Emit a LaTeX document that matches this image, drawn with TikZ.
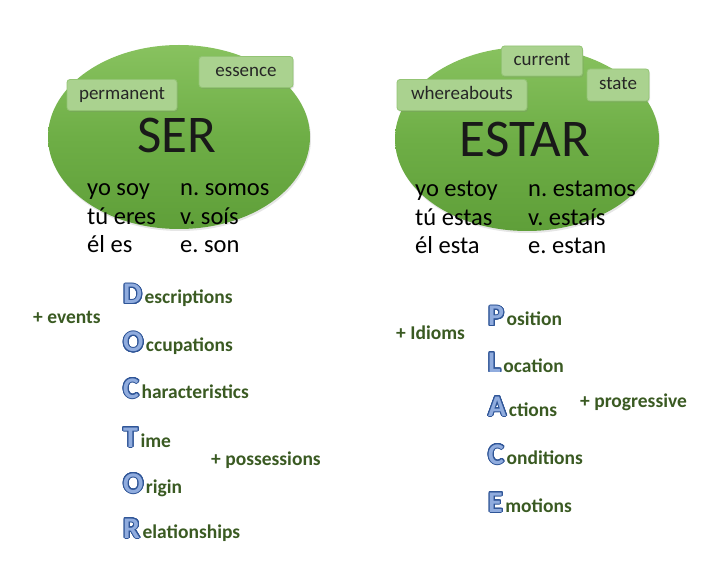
\documentclass[tikz,border=0pt]{standalone}
\usepackage{fontspec}
\setmainfont{Carlito}
\usepackage[copies]{contour}
\contourlength{1pt}
\contournumber{28}
\usetikzlibrary{shapes.geometric,shadows}
\definecolor{ellTop}{HTML}{88C25F}
\definecolor{ellMid}{HTML}{6EAE46}
\definecolor{ellBot}{HTML}{5F9F39}
\definecolor{tagFill}{HTML}{AAD28F}
\definecolor{tagLine}{HTML}{93C474}
\definecolor{wordGreen}{HTML}{3A5A22}
\definecolor{letterFill}{HTML}{90ACDE}
\definecolor{letterLine}{HTML}{2F5597}
\newcommand\InitLetter[1]{{\fontsize{30}{30}\selectfont\bfseries\color{letterFill}\contour{letterLine}{#1}}}
\tikzset{
  verbell/.style={ellipse, inner sep=0, top color=ellTop, bottom color=ellBot, middle color=ellMid,
    drop shadow={opacity=0.2, shadow xshift=1pt, shadow yshift=-2pt}},
  tag/.style={draw=tagLine, fill=tagFill, rounded corners=3pt, inner sep=0, line width=0.8pt,
    font=\fontsize{19}{19}\selectfont, text=black!85, text height=12.5pt, text depth=3.5pt,
    drop shadow={opacity=0.2, shadow xshift=1pt, shadow yshift=-1.5pt}},
  verbname/.style={anchor=base, inner sep=0, font=\fontsize{53}{53}\selectfont, text=black!90},
  conj/.style={anchor=base west, inner sep=0, font=\fontsize{24.5}{26}\selectfont, text=black},
  wordrow/.style={anchor=base west, inner sep=0, font=\fontsize{19.5}{21}\selectfont\bfseries, text=wordGreen},
  extra/.style={anchor=base west, inner sep=0, font=\fontsize{19.5}{21}\selectfont\bfseries, text=wordGreen}
}
\begin{document}
\frenchspacing
\begin{tikzpicture}[x=1pt,y=-1pt]
\useasboundingbox (0,0) rectangle (723,569);
% ellipses
\node[verbell, minimum width=262, minimum height=184] (serell) at (179,137) {};
\node[verbell, minimum width=264, minimum height=184] (estarell) at (527,139) {};
% tags
\node[tag, minimum width=110, minimum height=31] (permanent) at (122,95) {permanent};
\node[tag, minimum width=94, minimum height=31] (essence) at (246,72) {essence};
\node[tag, minimum width=130, minimum height=31] (whereabouts) at (462,95) {whereabouts};
\node[tag, minimum width=81, minimum height=30] (current) at (542,61) {current};
\node[tag, minimum width=62, minimum height=32] (state) at (618,85) {state};
% verb names
\node[verbname] (ser) at (177,153) {SER};
\node[verbname] (estar) at (525,157) {ESTAR};
% conjugations
\node[conj] (s1) at (87,196) {yo soy};
\node[conj] (s2) at (87,225) {tú eres};
\node[conj] (s3) at (87,253) {él es};
\node[conj] (s4) at (180,196) {n. somos};
\node[conj] (s5) at (180,225) {v. soís};
\node[conj] (s6) at (180,253) {e. son};
\node[conj] (e1) at (415,197) {yo estoy};
\node[conj] (e2) at (415,226) {tú estas};
\node[conj] (e3) at (415,254) {él esta};
\node[conj] (e4) at (528,197) {n. estamos};
\node[conj] (e5) at (528,226) {v. estaís};
\node[conj] (e6) at (528,254) {e. estan};
% DOCTOR
\node[wordrow] (dD) at (123,304) {\InitLetter{D}\kern2.5pt escriptions};
\node[wordrow] (dO) at (123,352) {\InitLetter{O}\kern2.5pt ccupations};
\node[wordrow] (dC) at (123,398) {\InitLetter{C}\kern2.5pt haracteristics};
\node[wordrow] (dT) at (123,447) {\InitLetter{T}\kern2.5pt ime};
\node[wordrow] (dO2) at (123,493) {\InitLetter{O}\kern2.5pt rigin};
\node[wordrow] (dR) at (123,538) {\InitLetter{R}\kern2.5pt elationships};
\node[extra] (events) at (33,324) {+ events};
\node[extra] (possessions) at (211,465) {+ possessions};
% PLACE
\node[wordrow] (pP) at (488,326) {\InitLetter{P}\kern2.5pt osition};
\node[wordrow] (pL) at (488,372) {\InitLetter{L}\kern2.5pt ocation};
\node[wordrow] (pA) at (488,416) {\InitLetter{A}\kern2.5pt ctions};
\node[wordrow] (pC) at (488,464) {\InitLetter{C}\kern2.5pt onditions};
\node[wordrow] (pE) at (488,512) {\InitLetter{E}\kern2.5pt motions};
\node[extra] (idioms) at (396,340) {+ Idioms};
\node[extra] (progressive) at (580,407) {+ progressive};
\end{tikzpicture}
\end{document}
